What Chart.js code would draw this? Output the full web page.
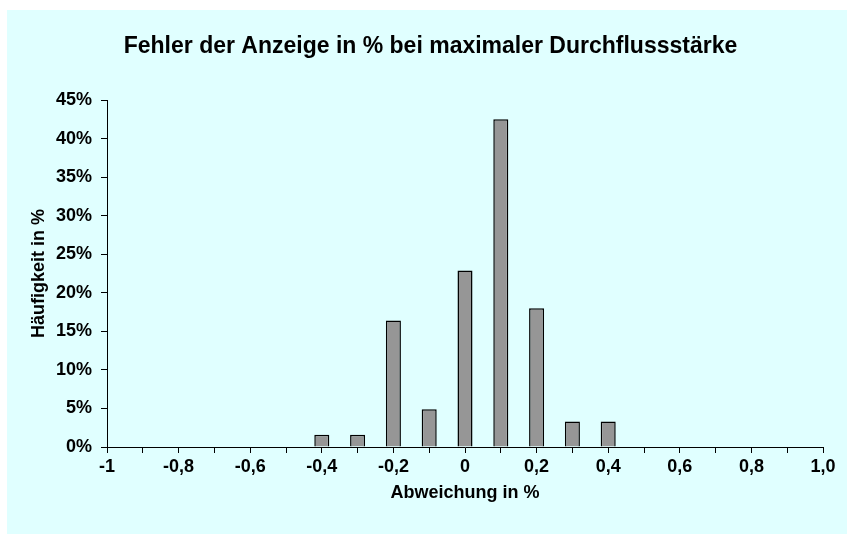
<!DOCTYPE html>
<html>
<head>
<meta charset="utf-8">
<script src="https://cdn.jsdelivr.net/npm/chart.js@4"></script>
<style>
  html, body { margin: 0; padding: 0; background: #fff; }
  #wrap {
    position: absolute; left: 7px; top: 10px;
    width: 840px; height: 524px;
    background: #E0FFFF;
  }
</style>
</head>
<body>
<div id="wrap"><canvas id="chart" width="840" height="524"></canvas></div>
<script>
// ----------------------
// Data
// ----------------------
const categories = ["-1", "-0,9", "-0,8", "-0,7", "-0,6", "-0,5", "-0,4", "-0,3", "-0,2", "-0,1",
  "0", "0,1", "0,2", "0,3", "0,4", "0,5", "0,6", "0,7", "0,8", "0,9", "1,0"];
const frequency = [0, 0, 0, 0, 0, 0, 1.6, 1.6, 16.4, 4.9,
  22.9, 42.5, 18.0, 3.3, 3.3, 0, 0, 0, 0, 0, 0];
const yTicks = [0, 5, 10, 15, 20, 25, 30, 35, 40, 45];

const titleText = "Fehler der Anzeige in % bei maximaler Durchflussstärke";
const xTitle = "Abweichung in %";
const yTitle = "Häufigkeit in %";

const FONT = "'Liberation Sans', Arial, sans-serif";

// ----------------------
// Chart
// ----------------------
const ctx = document.getElementById("chart").getContext("2d");
new Chart(ctx, {
  type: "bar",
  data: {
    labels: categories,
    datasets: [{
      data: frequency,
      backgroundColor: "#969696",
      borderColor: "#000",
      borderWidth: 1.5,
      barPercentage: 0.42,
      categoryPercentage: 1
    }]
  },
  options: {
    responsive: false,
    animation: false,
    layout: { padding: { left: 7, right: 0, top: 0, bottom: 0 } },
    plugins: {
      legend: { display: false },
      tooltip: { enabled: false },
      title: {
        display: true,
        text: titleText,
        color: "#000",
        font: { family: FONT, size: 23, weight: "bold" },
        padding: { top: 23, bottom: 39.4 }
      }
    },
    scales: {
      x: {
        type: "category",
        offset: false,
        grid: { offset: false, drawOnChartArea: false, drawTicks: true, tickLength: 6, color: "#000" },
        border: { display: true, color: "#000", width: 1 },
        ticks: {
          autoSkip: false,
          maxRotation: 0,
          color: "#000",
          padding: 3,
          font: { family: FONT, size: 18, weight: "bold" },
          callback: (v, i) => (i % 2 === 0 ? categories[i] : "")
        },
        title: {
          display: true,
          text: xTitle,
          color: "#000",
          font: { family: FONT, size: 18, weight: "bold" },
          padding: { top: 0, bottom: 30 }
        },
        afterFit: s => { s.height = 87; }
      },
      y: {
        min: 0,
        max: 45,
        grid: { drawOnChartArea: false, drawTicks: true, tickLength: 6, color: "#000" },
        border: { display: true, color: "#000", width: 1 },
        ticks: {
          stepSize: 5,
          color: "#000",
          padding: 9,
          font: { family: FONT, size: 18, weight: "bold" },
          callback: v => (yTicks.includes(v) ? v + "%" : "")
        },
        title: {
          display: true,
          text: yTitle,
          color: "#000",
          font: { family: FONT, size: 18, weight: "bold" },
          padding: { top: 14, bottom: 0 }
        },
        afterFit: s => { s.width = 93; }
      },
      // empty right margin so the plot ends where the reference ends
      yRight: {
        axis: "y",
        position: "right",
        grid: { display: false },
        border: { display: false },
        ticks: { display: false },
        afterFit: s => { s.width = 24; }
      }
    }
  }
});
</script>
</body>
</html>
